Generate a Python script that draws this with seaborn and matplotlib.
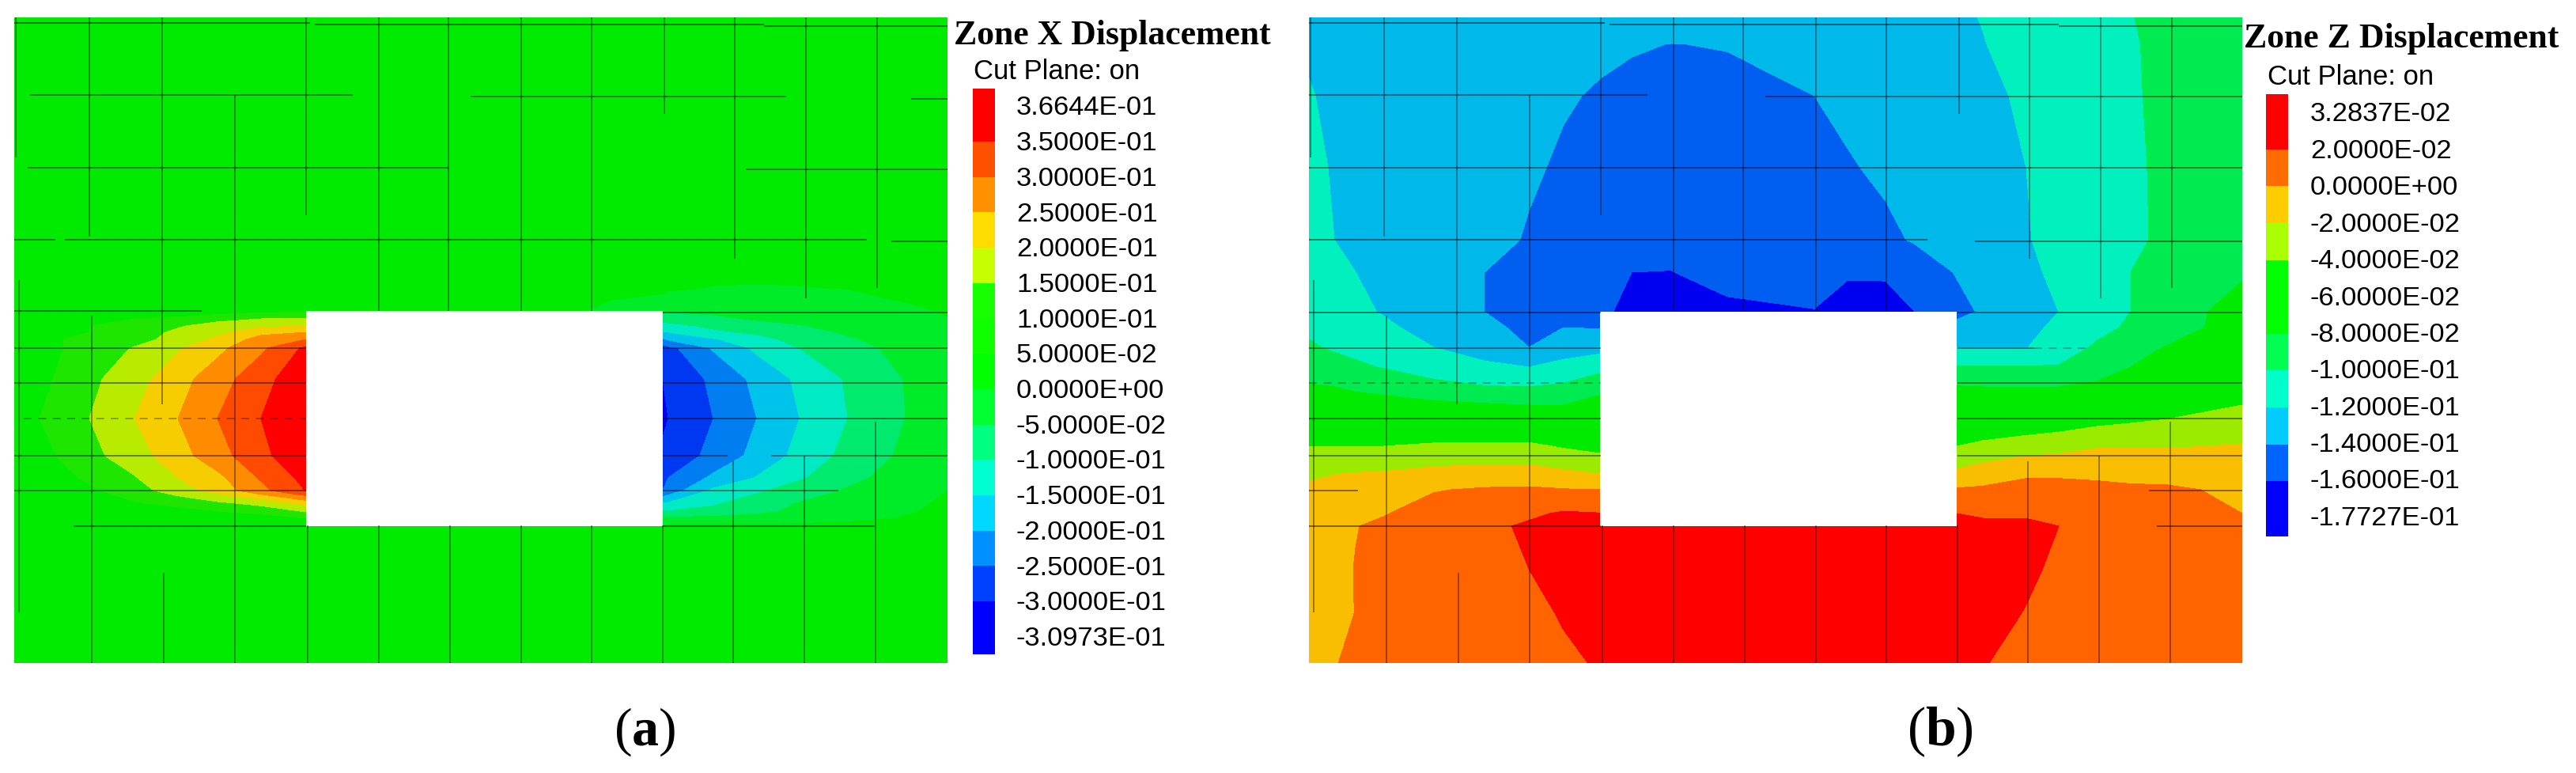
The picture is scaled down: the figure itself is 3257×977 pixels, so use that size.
import numpy as np
import matplotlib
matplotlib.use("Agg")
import matplotlib.pyplot as plt
from matplotlib.colors import ListedColormap
import seaborn as sns

nan = np.nan

# Mesh node positions (same model section in both panels)
x_a = [18, 50, 80, 113, 170, 225, 275, 330, 387, 612, 838, 845, 902, 957, 1011, 1072, 1145, 1198]
y_a = [23, 350, 365, 380, 394, 404, 413, 421, 430, 441, 480, 530, 577, 605, 621, 637, 648, 656, 666, 839]

# Zone X displacement, one row per y_a
disp_x = [
    [.02, .02, .02, .02, .02, .02, .02, .02, .02, .01, .01, .01, .01, .01, .01, .01, .01, .01],
    [.02, .02, .02, .02, .02, .02, .02, .02, .02, .01, .006, .005, .004, .004, .004, .005, .008, .01],
    [.02, .02, .02, .02, .02, .02, .02, .02, .02, .01, .004, .003, -.001, -.002, -.001, .001, .005, .008],
    [.02, .02, .02, .02, .02, .02, .02, .03, .04, .01, -.004, -.008, -.02, -.022, -.02, -.01, .003, .008],
    [.03, .03, .03, .03, .04, .05, .07, .085, .09, .06, -.045, -.045, -.04, -.035, -.03, -.025, -.012, .005],
    [.03, .04, .05, .07, .10, .115, .135, .15, .155, nan, -.085, -.08, -.06, -.045, -.04, -.03, -.015, -.002],
    [.03, .05, .07, .10, .12, .145, .17, .19, .20, nan, -.12, -.115, -.09, -.07, -.052, -.04, -.02, -.005],
    [.035, .055, .08, .10, .125, .16, .185, .235, .25, nan, -.155, -.15, -.11, -.09, -.065, -.045, -.025, -.008],
    [.04, .06, .10, .11, .135, .165, .21, .27, .30, nan, -.21, -.195, -.155, -.12, -.08, -.055, -.03, -.01],
    [.04, .065, .10, .125, .153, .195, .237, .29, .36, nan, -.275, -.265, -.195, -.14, -.10, -.068, -.035, -.012],
    [.045, .08, .115, .138, .18, .232, .277, .333, .385, nan, -.30, -.29, -.24, -.187, -.14, -.095, -.048, -.02],
    [.05, .10, .125, .15, .20, .25, .30, .35, .41, nan, -.31, -.30, -.25, -.20, -.15, -.10, -.05, -.025],
    [.04, .08, .108, .135, .178, .23, .28, .337, .39, nan, -.29, -.285, -.235, -.185, -.135, -.085, -.04, -.018],
    [.035, .06, .085, .11, .146, .20, .237, .305, .365, nan, -.255, -.25, -.19, -.147, -.107, -.063, -.028, -.006],
    [.03, .05, .07, .09, .13, .175, .22, .285, .352, nan, -.25, -.23, -.14, -.108, -.075, -.045, -.017, 0],
    [.025, .04, .05, .07, .095, .115, .14, .165, .22, nan, -.15, -.145, -.107, -.075, -.048, -.03, -.006, .004],
    [.02, .03, .03, .04, .065, .08, .095, .115, .15, nan, -.095, -.095, -.085, -.06, -.04, -.02, -.002, .005],
    [.01, .02, .02, .03, .04, .05, .06, .07, .10, nan, -.04, -.04, -.035, -.03, -.02, -.008, .002, .008],
    [.01, .01, .01, .01, .01, .01, .01, .01, .01, .01, .01, .01, .01, .01, .01, .01, .01, .01],
    [.01, .01, .01, .01, .01, .01, .01, .01, .01, .01, .01, .01, .01, .01, .01, .01, .01, .01],
]

x_b = [18, 50, 77, 112, 176, 240, 296, 340, 386, 426, 476, 547, 657, 699, 747, 784, 837, 870, 925, 966, 1014, 1057, 1103, 1198]
y_b = [23, 57, 122, 213, 304, 345, 395, 415, 440, 465, 490, 513, 565, 600, 620, 650, 666, 720, 776, 839]

# Zone Z displacement, one row per y_b
disp_z = [
    [-.124, -.125, -.126, -.127, -.128, -.129, -.13, -.131, -.132, -.133, -.134, -.133, -.131, -.129, -.127, -.125, -.122, -.1195, -.114, -.11, -.105, -.101, -.092, -.086],
    [-.122, -.125, -.126, -.128, -.13, -.132, -.134, -.136, -.138, -.139, -.1402, -.1395, -.136, -.134, -.131, -.129, -.125, -.1205, -.115, -.111, -.106, -.1015, -.096, -.088],
    [-.119, -.123, -.125, -.127, -.131, -.134, -.137, -.139, -.141, -.143, -.144, -.143, -.14, -.136, -.133, -.13, -.126, -.123, -.118, -.113, -.107, -.1015, -.097, -.088],
    [-.117, -.121, -.124, -.127, -.131, -.135, -.1385, -.1415, -.144, -.146, -.147, -.147, -.144, -.1415, -.137, -.134, -.129, -.125, -.12, -.115, -.108, -.1025, -.097, -.088],
    [-.115, -.12, -.123, -.126, -.131, -.136, -.141, -.145, -.148, -.15, -.152, -.15, -.147, -.146, -.1435, -.1385, -.132, -.128, -.121, -.115, -.109, -.103, -.097, -.085],
    [-.112, -.117, -.12, -.125, -.132, -.14, -.145, -.15, -.155, -.16, -.1605, -.152, -.148, -.158, -.158, -.15, -.139, -.133, -.123, -.117, -.11, -.10, -.094, -.083],
    [-.108, -.113, -.117, -.121, -.129, -.14, -.145, -.15, -.155, -.167, -.17, -.165, -.161, -.168, -.167, -.16, -.145, -.138, -.127, -.12, -.11, -.10, -.092, -.07],
    [-.103, -.108, -.112, -.117, -.126, -.135, -.145, -.14, -.141, nan, nan, nan, nan, nan, nan, nan, -.135, -.132, -.125, -.116, -.106, -.097, -.09, -.07],
    [-.098, -.102, -.105, -.11, -.12, -.131, -.14, -.131, -.127, nan, nan, nan, nan, nan, nan, nan, -.1205, -.1205, -.1205, -.112, -.097, -.087, -.079, -.062],
    [-.09, -.094, -.097, -.101, -.108, -.115, -.12, -.113, -.106, nan, nan, nan, nan, nan, nan, nan, -.099, -.099, -.099, -.0985, -.09, -.08, -.07, -.052],
    [-.078, -.08, -.083, -.086, -.095, -.099, -.10, -.097, -.087, nan, nan, nan, nan, nan, nan, nan, -.079, -.08, -.08, -.08, -.076, -.07, -.064, -.048],
    [-.07, -.071, -.072, -.073, -.075, -.078, -.08, -.08, -.072, nan, nan, nan, nan, nan, nan, nan, -.074, -.072, -.068, -.065, -.06, -.055, -.05, -.04],
    [-.04, -.04, -.04, -.04, -.037, -.036, -.036, -.042, -.047, nan, nan, nan, nan, nan, nan, nan, -.04, -.035, -.03, -.027, -.0215, -.021, -.021, -.019],
    [-.025, -.0205, -.019, -.018, -.014, -.012, -.012, -.016, -.02, nan, nan, nan, nan, nan, nan, nan, -.016, -.01, -.002, -.002, -.003, -.005, -.009, -.012],
    [-.014, -.012, -.011, -.008, -.001, .002, .003, .001, 0, nan, nan, nan, nan, nan, nan, nan, .002, .003, .005, .005, .004, .003, .004, -.005],
    [-.01, -.008, -.004, -.001, .007, .012, .017, .022, .0205, nan, nan, nan, nan, nan, nan, nan, .02, .017, .018, .013, .01, .008, .007, 0],
    [-.009, -.006, -.0005, .003, .01, .016, .0225, .027, .028, .03, .03, .03, .03, .03, .03, .03, .027, .025, .023, .02, .013, .011, .009, .004],
    [-.008, -.004, .0005, .005, .011, .016, .02, .025, .03, .03, .03, .03, .03, .03, .03, .03, .028, .025, .022, .018, .014, .012, .01, .006],
    [-.007, -.003, .0002, .004, .009, .013, .017, .021, .028, .03, .03, .03, .03, .03, .03, .03, .027, .024, .0195, .016, .013, .012, .01, .006],
    [-.006, -.0005, .002, .005, .009, .012, .015, .018, .021, .03, .03, .03, .03, .03, .03, .03, .023, .0205, .017, .015, .013, .012, .01, .006],
]

levels_x = [-.5, -.30, -.25, -.20, -.15, -.10, -.05, 0, .05, .10, .15, .20, .25, .30, .35, .5]
levels_z = [-.5, -.16, -.14, -.12, -.10, -.08, -.06, -.04, -.02, 0, .02, .5]

# Filled colours inside the plots, low to high
colors_x = ['#0000eb', '#0037f0', '#007df0', '#00c3eb', '#00ebc3', '#00eb6e', '#00eb28', '#00eb00',
            '#00eb00', '#1ee600', '#b9eb00', '#f5cd00', '#ff8c00', '#ff4b00', '#ff0000']
colors_z = ['#0000f0', '#005ff0', '#00b9eb', '#00f0be', '#00eb50', '#00eb00', '#00eb00',
            '#9beb00', '#fabe00', '#ff6400', '#ff0000']

# Legend strips, top to bottom
strip_x = ['#ff0000', '#ff5000', '#ff9000', '#ffdc00', '#c8ff00', '#18ff00', '#10ff00', '#00ff00',
           '#00ff30', '#00ff80', '#00ffd0', '#00d8ff', '#0090ff', '#0040ff', '#0000ff']
strip_z = ['#ff0000', '#ff6c00', '#ffcc00', '#aaff00', '#00ff00', '#00ff00', '#00ff50',
           '#00ffc8', '#00ccff', '#0064ff', '#0000ff']

labels_x = ['3.6644E-01', '3.5000E-01', '3.0000E-01', '2.5000E-01', '2.0000E-01', '1.5000E-01',
            '1.0000E-01', '5.0000E-02', '0.0000E+00', '-5.0000E-02', '-1.0000E-01', '-1.5000E-01',
            '-2.0000E-01', '-2.5000E-01', '-3.0000E-01', '-3.0973E-01']
labels_z = ['3.2837E-02', '2.0000E-02', '0.0000E+00', '-2.0000E-02', '-4.0000E-02', '-6.0000E-02',
            '-8.0000E-02', '-1.0000E-01', '-1.2000E-01', '-1.4000E-01', '-1.6000E-01', '-1.7727E-01']

# Zone edges seen in the plots: (position, start, end)
mesh_v = [(20, 23, 200), (24, 355, 775), (113, 23, 300), (116, 400, 839), (205, 23, 512), (207, 725, 839),
          (297, 121, 839), (387, 23, 273), (389, 665, 839), (479, 23, 394), (479, 665, 839), (567, 23, 394),
          (569, 665, 839), (659, 23, 394), (659, 665, 839), (748, 23, 394), (748, 665, 839), (840, 23, 145),
          (838, 665, 839), (929, 23, 328), (927, 584, 839), (1019, 23, 378), (1017, 577, 839), (1109, 23, 365),
          (1107, 534, 839)]
mesh_h_x = [(30, 18, 392), (32, 398, 966), (34, 966, 1198), (121, 38, 446), (123, 595, 994), (126, 1152, 1198),
            (213, 35, 567), (215, 943, 1198), (304, 18, 70), (304, 82, 1096), (306, 1127, 1198), (394, 18, 255),
            (396, 838, 1198), (441, 18, 387), (441, 838, 1198), (485, 18, 387), (485, 838, 1198), (530, 838, 1198),
            (577, 18, 387), (577, 838, 920), (577, 975, 1198), (621, 18, 387), (621, 838, 1060), (666, 93, 387),
            (666, 838, 1106)]
mesh_h_z = [(30, 18, 392), (32, 398, 966), (34, 966, 1198), (121, 18, 446), (123, 595, 1198),
            (213, 18, 1198), (304, 18, 800), (306, 860, 1198), (396, 18, 387), (396, 838, 1198), (441, 18, 387),
            (441, 838, 935), (485, 838, 1198), (530, 18, 387), (530, 838, 1198), (577, 18, 387), (577, 838, 1198),
            (621, 18, 80), (621, 1080, 1198), (666, 18, 387), (666, 1090, 1198)]
dashed_h_x = [(530, 30, 387)]
dashed_h_z = [(485, 18, 387), (441, 935, 1000)]

W, H = 3257, 978
sns.set_style("white")
plt.rcParams['mathtext.fontset'] = 'custom'
plt.rcParams['mathtext.rm'] = 'Liberation Serif'
plt.rcParams['mathtext.bf'] = 'Liberation Serif:bold'

fig = plt.figure(figsize=(W / 100, H / 100), dpi=100, facecolor='white')


def px_axes(left, top, right, bottom):
    return fig.add_axes([left / W, 1 - bottom / H, (right - left) / W, (bottom - top) / H])


def px_text(x, y, s, **kw):
    fig.text(x / W, 1 - y / H, s, va='center', **kw)


def draw_field(left, xs, ys, values, levels, colors, h_lines, dashed):
    ax = px_axes(left, 23, left + 1180, 839)
    ax.contourf(xs, ys, np.array(values), levels=levels, colors=colors, corner_mask=False)
    ax.set_xlim(18, 1198)
    ax.set_ylim(839, 23)
    ax.axis('off')
    for pos, start, end in mesh_v:
        ax.vlines(pos, start, end, color='black', alpha=0.5, lw=1.1)
    for pos, start, end in h_lines:
        ax.hlines(pos, start, end, color='black', alpha=0.55, lw=1.2)
    for pos, start, end in dashed:
        ax.hlines(pos, start, end, color='black', alpha=0.35, lw=1.2, linestyles=(0, (6, 5)))


def draw_legend(left, top, bottom, colors, labels, title, title_x, title_y, cut_x, cut_y, text_x, first_y, step):
    ax = px_axes(left, top, left + 28, bottom)
    # end bands are longer than the others
    rows = np.repeat(np.arange(len(colors)), [3] + [2] * (len(colors) - 2) + [3])
    sns.heatmap(rows[:, None], cmap=ListedColormap(colors), vmin=0, vmax=len(colors) - 1,
                cbar=False, xticklabels=False, yticklabels=False, ax=ax)
    px_text(title_x, title_y, title, family='Liberation Serif', weight='bold', fontsize=31.5, color='black')
    px_text(cut_x, cut_y, 'Cut Plane: on', family='Liberation Sans', fontsize=25, color='black')
    for k, lab in enumerate(labels):
        px_text(text_x, first_y + step * k, lab, family='Liberation Sans', fontsize=24.8, color='black')


draw_field(18, x_a, y_a, disp_x, levels_x, colors_x, mesh_h_x, dashed_h_x)
draw_field(1655, x_b, y_b, disp_z, levels_z, colors_z, mesh_h_z, dashed_h_z)

draw_legend(1230, 113, 828, strip_x, labels_x, 'Zone X Displacement', 1206, 45, 1231, 91, 1285, 137, 44.7)
draw_legend(2865, 120, 679, strip_z, labels_z, 'Zone Z Displacement', 2837, 49, 2867, 98, 2921, 145, 46.4)

px_text(815, 925, r'($\mathbf{a}$)', ha='center', fontsize=49, color='black', family='Liberation Serif')
px_text(2453, 925, r'($\mathbf{b}$)', ha='center', fontsize=50, color='black', family='Liberation Serif')

plt.savefig('out.png', dpi=100)
